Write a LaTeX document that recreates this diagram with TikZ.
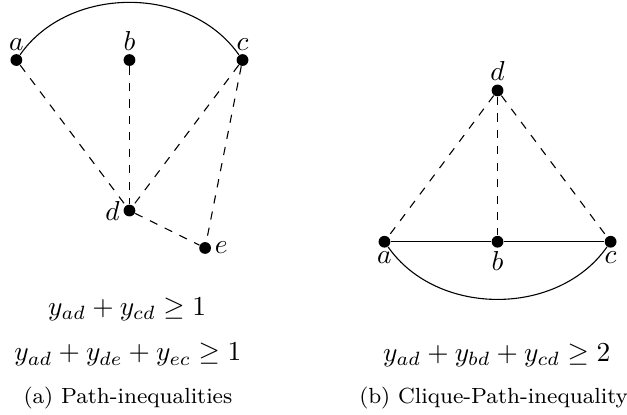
\documentclass[tikz,border=0pt]{standalone}
\usepackage{amsmath}
\begin{document}
\begin{tikzpicture}[vertex/.style={circle, fill=black, inner sep=0pt, minimum size=4.3pt},
  lbl/.style={inner sep=1pt},
  subcap/.style={font=\footnotesize}]
\useasboundingbox (0,0) rectangle (8.04,5.32);

% Vertices of the path example
\node[vertex, label={[lbl]above:$a$}] (a1) at (0.21,4.55) {};
\node[vertex, label={[lbl]above:$b$}] (b1) at (1.66,4.55) {};
\node[vertex, label={[lbl]above:$c$}] (c1) at (3.11,4.55) {};
\node[vertex, label={[lbl]left:$d$}] (d1) at (1.66,2.62) {};
\node[vertex, label={[lbl]right:$e$}] (e1) at (2.63,2.14) {};

% Edges of the path example
\draw (a1) to[bend left=55] (c1);
\draw[dashed] (a1) -- (d1);
\draw[dashed] (b1) -- (d1);
\draw[dashed] (c1) -- (d1);
\draw[dashed] (c1) -- (e1);
\draw[dashed] (d1) -- (e1);

% Vertices of the clique example
\node[vertex, label={[lbl]above:$d$}] (d2) at (6.38,4.16) {};
\node[vertex, label={[lbl]below:$a$}] (a2) at (4.93,2.22) {};
\node[vertex, label={[lbl]below:$b$}] (b2) at (6.38,2.22) {};
\node[vertex, label={[lbl]below:$c$}] (c2) at (7.83,2.22) {};

% Edges of the clique example
\draw (a2) -- (b2) -- (c2);
\draw (a2) to[bend right=55] (c2);
\draw[dashed] (d2) -- (a2);
\draw[dashed] (d2) -- (b2);
\draw[dashed] (d2) -- (c2);

% Inequalities
\node (ineq1) at (1.63,1.35) {$y_{ad} + y_{cd} \geq 1$};
\node (ineq2) at (1.64,0.77) {$y_{ad} + y_{de} + y_{ec} \geq 1$};
\node (ineq3) at (6.37,0.76) {$y_{ad} + y_{bd} + y_{cd} \geq 2$};

% Captions
\node[subcap] (capa) at (1.64,0.22) {(a) Path-inequalities};
\node[subcap] (capb) at (6.33,0.22) {(b) Clique-Path-inequality};
\end{tikzpicture}
\end{document}
